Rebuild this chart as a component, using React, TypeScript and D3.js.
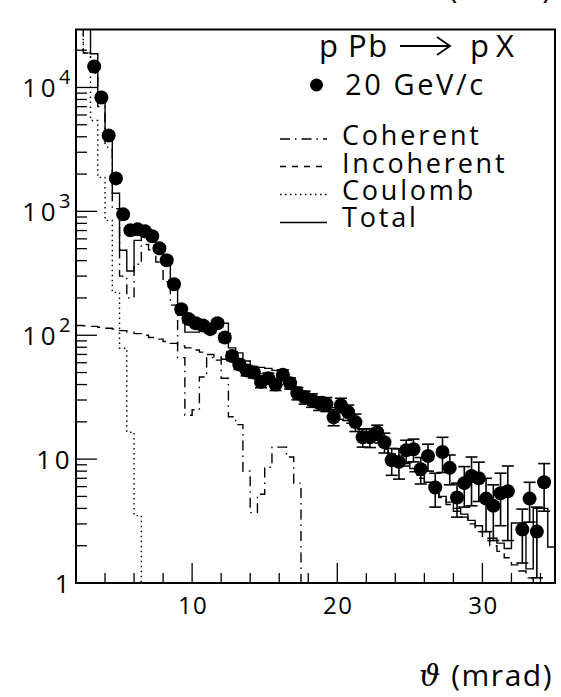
import React from 'react';
import * as d3 from 'd3';

// bin low edges (mrad), bin width 0.5
const binLow = [2.0,2.5,3.0,3.5,4.0,4.5,5.0,5.5,6.0,6.5,7.0,7.5,8.0,8.5,9.0,9.5,10.0,10.5,11.0,11.5,12.0,12.5,13.0,13.5,14.0,14.5,15.0,15.5,16.0,16.5,17.0,17.5,18.0,18.5,19.0,19.5,20.0,20.5,21.0,21.5,22.0,22.5,23.0,23.5,24.0,24.5,25.0,25.5,26.0,26.5,27.0,27.5,28.0,28.5,29.0,29.5,30.0,30.5,31.0,31.5,32.0,32.5,33.0,33.5,34.0,34.5];
const binEnd = 35.0;

const totalHist = [80000,40000,18700,9000,4300,1400,485,330,583,700,640,520,400,260,145,106,106,114,118,125,125,79,72,62,56,55,54,52,50,45,38,34,31,29,28,26,24,22,20,17.5,15.5,14.5,13,11,10,9.2,8.4,7.4,6.5,5.6,5.0,4.5,4.0,3.6,3.2,2.9,2.6,2.3,2.1,1.9,3.05,3.05,1.3,4.0,4.0,1.95];
const coherentHist = [60000,19000,13000,7000,3300,1050,300,200,374,540,490,390,270,175,66,22.6,25,46,66,63,45,22,19,8.0,3.7,5.2,8.6,12.5,12.5,10.4,6.4,0,0,0,0,0,0,0,0,0,0,0,0,0,0,0,0,0,0,0,0,0,0,0,0,0,0,0,0,0,0,0,0,0,0,0];
const incoherentHist = [120,119,118,116,114,112,109,106,103,100,96,93,89,86,82,79,76,73,70,67,64,61,58,55,52,49,46,43,40,37,34.5,32,29.5,27,25,23,21,19.5,18,16.5,15,13.5,12,11,9.8,8.8,7.9,7.0,6.2,5.5,4.9,4.3,3.8,3.4,3.0,2.6,2.3,2.0,1.8,1.6,1.4,1.25,1.1,0.97,0.85,0.75];
const coulombHist = [60000,19000,5420,1880,846,222,78.6,16.5,3.5,0,0,0,0,0,0,0,0,0,0,0,0,0,0,0,0,0,0,0,0,0,0,0,0,0,0,0,0,0,0,0,0,0,0,0,0,0,0,0,0,0,0,0,0,0,0,0,0,0,0,0,0,0,0,0,0,0];

// measured data, 20 GeV/c
const dataTheta = [3.25,3.75,4.25,4.75,5.25,5.75,6.25,6.75,7.25,7.75,8.25,8.75,9.25,9.75,10.25,10.75,11.25,11.75,12.25,12.75,13.25,13.75,14.25,14.75,15.25,15.75,16.25,16.75,17.25,17.75,18.25,18.75,19.25,19.75,20.25,20.75,21.25,21.75,22.25,22.75,23.25,23.75,24.25,24.75,25.25,25.75,26.25,26.75,27.25,27.75,28.25,28.75,29.25,29.75,30.25,30.75,31.25,31.75,32.75,33.25,33.75,34.25];
const dataValue = [14760,8300,4100,1845,946,703,716,690,629,503,403,258,162,135,125,120,112,125,96,68,58,52,50,42,45,40,48,41,34,31.6,29.9,28.3,27.8,21.8,27.3,23.9,19.9,15.0,15.0,16.5,13.7,9.8,9.5,11.8,12.0,8.3,10.6,5.9,11.4,8.5,4.9,6.4,7.3,7.0,4.8,4.2,5.3,5.5,2.7,4.8,2.6,6.5];
const dataError = [600,350,180,80,45,35,35,34,32,26,22,15,10,9,8,8,7.5,8,7,5.5,5,5,4.8,4.3,4.5,4.2,4.6,4.2,3.9,3.8,3.7,3.6,3.6,3.2,3.7,3.4,3.2,2.5,2.6,2.3,2.5,2.4,2.6,2.4,2.5,2.0,2.6,1.8,3.6,2.3,1.5,2.3,3.1,2.45,2.2,2.0,2.4,3.3,1.25,1.7,1.5,2.7];

const xMajorTicks = [10, 20, 30];
const xMinorTicks = [4, 6, 8, 12, 14, 16, 18, 22, 24, 26, 28, 32, 34];
const yDecades = [1, 10, 100, 1000, 10000];
const yLabelBase = ['1', '10', '10', '10', '10'];
const yLabelExp = ['', '', '2', '3', '4'];

const legendNames = ['Coherent', 'Incoherent', 'Coulomb', 'Total'];
const legendDash = ['10,5,1.5,5', '6,6', '1.5,3.5', ''];

const FONT = "'Open Sans', 'DejaVu Sans', sans-serif";

export default function App() {
  const W = 561, H = 697;
  const left = 76, right = 555, top = 29.5, bottom = 583;
  const x = d3.scaleLinear().domain([2, 35]).range([left, right]);
  const y = d3.scaleLog().domain([1, Math.pow(10, 4.468)]).range([bottom, top]);
  const yv = (v: number) => (v > 0 ? y(v) : bottom + 60);

  const stepPath = (vals: number[]) => {
    const pts: [number, number][] = binLow.map((b, i) => [x(b), yv(vals[i])]);
    pts.push([x(binEnd), yv(vals[vals.length - 1])]);
    return d3.line().curve(d3.curveStepAfter)(pts) || '';
  };

  const minorY: number[] = [];
  yDecades.forEach((d) => {
    for (let m = 2; m <= 9; m++) {
      const v = d * m;
      if (v < Math.pow(10, 4.468)) minorY.push(v);
    }
  });

  const legendY = [145, 173, 200, 227];
  const legendLineY = [139, 166.5, 194.5, 222.5];

  return (
    <div style={{ position: 'absolute', left: 0, top: 0, width: W, height: H, background: '#fff' }}>
      <svg width={W} height={H} viewBox={`0 0 ${W} ${H}`} style={{ display: 'block' }} fontFamily={FONT}>
        <rect x={0} y={0} width={W} height={H} fill="#fff" />
        <defs>
          <clipPath id="plotClip">
            <rect x={left} y={top} width={right - left} height={bottom - top} />
          </clipPath>
        </defs>

        {/* cut-off title at the very top */}
        <text x={553} y={-2} textAnchor="end" fontSize={31} letterSpacing={1.5} fill="#000">(mrad)</text>

        <g clipPath="url(#plotClip)">
          <path d={stepPath(coulombHist)} fill="none" stroke="#000" strokeWidth={1.4} strokeDasharray="1.5,3.5" />
          <path d={stepPath(coherentHist)} fill="none" stroke="#000" strokeWidth={1.4} strokeDasharray="10,5,1.5,5" />
          <path d={stepPath(incoherentHist)} fill="none" stroke="#000" strokeWidth={1.4} strokeDasharray="10,6" />
          <path d={stepPath(totalHist)} fill="none" stroke="#000" strokeWidth={1.4} />

          {dataTheta.map((t, i) => {
            const cx = x(t);
            const v = dataValue[i];
            const e = dataError[i];
            const yt = yv(v + e);
            const yb = yv(v - e);
            return (
              <g key={i}>
                <line x1={cx} x2={cx} y1={yt} y2={yb} stroke="#000" strokeWidth={1.6} />
                <line x1={cx - 6} x2={cx + 6} y1={yt} y2={yt} stroke="#000" strokeWidth={1.6} />
                <line x1={cx - 6} x2={cx + 6} y1={yb} y2={yb} stroke="#000" strokeWidth={1.6} />
              </g>
            );
          })}
          {dataTheta.map((t, i) => (
            <circle key={'c' + i} cx={x(t)} cy={yv(dataValue[i])} r={7} fill="#000" />
          ))}
        </g>

        {/* frame */}
        <rect x={left} y={top} width={right - left} height={bottom - top} fill="none" stroke="#000" strokeWidth={2} />

        {/* x ticks */}
        {xMajorTicks.map((t) => (
          <line key={'xM' + t} x1={x(t)} x2={x(t)} y1={bottom} y2={bottom - 20} stroke="#000" strokeWidth={1.3} />
        ))}
        {xMinorTicks.map((t) => (
          <line key={'xm' + t} x1={x(t)} x2={x(t)} y1={bottom} y2={bottom - 10} stroke="#000" strokeWidth={1.3} />
        ))}
        {xMajorTicks.map((t) => (
          <text key={'xl' + t} x={x(t) + 1} y={614} textAnchor="middle" fontSize={24} letterSpacing={1.5}>{t}</text>
        ))}

        {/* y ticks */}
        {yDecades.filter((d) => d > 1).map((d) => (
          <line key={'yM' + d} x1={left} x2={left + 21} y1={y(d)} y2={y(d)} stroke="#000" strokeWidth={1.3} />
        ))}
        {minorY.map((v) => (
          <line key={'ym' + v} x1={left} x2={left + 11} y1={y(v)} y2={y(v)} stroke="#000" strokeWidth={1.3} />
        ))}
        {yDecades.map((d, i) => (
          <text key={'yl' + d} x={yLabelExp[i] ? 59 : 73} y={y(d) + 10} textAnchor="end" fontSize={26} letterSpacing={3.5}>
            {yLabelBase[i]}
          </text>
        ))}
        {yDecades.map((d, i) =>
          yLabelExp[i] ? (
            <text key={'ye' + d} x={59} y={y(d) - 3} textAnchor="start" fontSize={20}>
              {yLabelExp[i]}
            </text>
          ) : null
        )}

        {/* reaction title */}
        <g fontSize={31} fill="#000">
          <text x={319} y={57}>p</text>
          <text x={348} y={57} letterSpacing={1.5}>Pb</text>
          <line x1={400} x2={450} y1={46} y2={46} stroke="#000" strokeWidth={1.8} />
          <polyline points="437,37 450,46 437,55" fill="none" stroke="#000" strokeWidth={1.8} />
          <text x={470} y={57}>p</text>
          <text x={496} y={57}>X</text>
        </g>

        {/* legend */}
        <circle cx={316.5} cy={85} r={6.5} fill="#000" />
        <text x={345} y={95} fontSize={29} letterSpacing={2.6}>20 GeV/c</text>
        {legendNames.map((n, i) => (
          <g key={n}>
            <line x1={280} x2={327} y1={legendLineY[i]} y2={legendLineY[i]} stroke="#000" strokeWidth={1.3}
              strokeDasharray={legendDash[i] || undefined} />
            <text x={342} y={legendY[i]} fontSize={27} letterSpacing={2.8}>{n}</text>
          </g>
        ))}

        {/* x-axis title */}
        <text x={553} y={686} textAnchor="end" fontSize={30} letterSpacing={1.5}>
          <tspan fontStyle="italic" fontFamily="'DejaVu Serif', serif">ϑ</tspan>
          <tspan> (mrad)</tspan>
        </text>
      </svg>
    </div>
  );
}
